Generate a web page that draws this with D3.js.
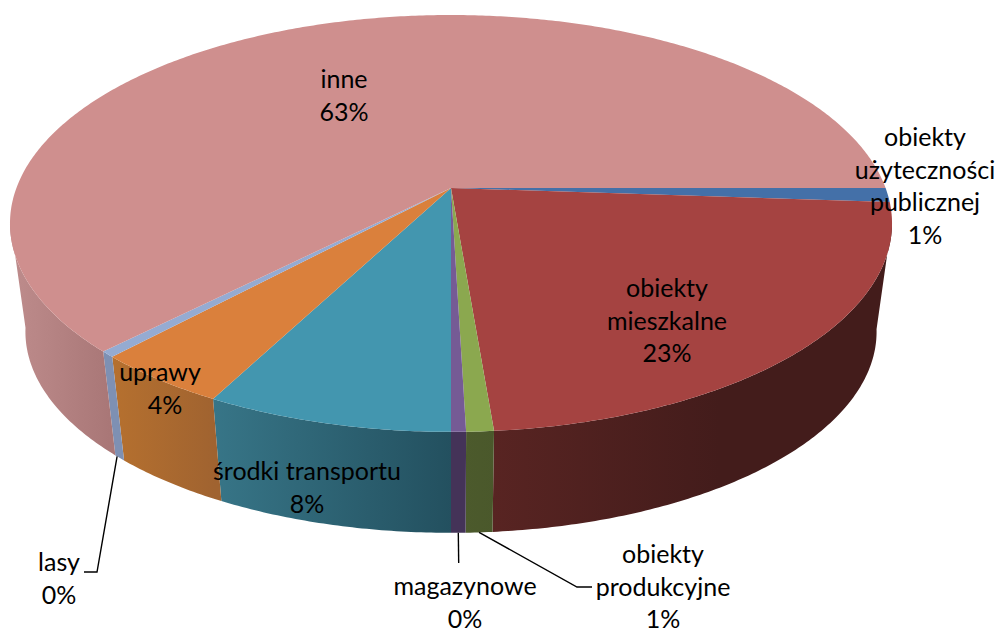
<!DOCTYPE html>
<html>
<head>
<meta charset="utf-8">
<title>Pie 3D</title>
<script src="https://cdn.jsdelivr.net/npm/d3@7"></script>
<style>
  html, body { margin: 0; padding: 0; background: #fff; }
  svg { display: block; }
  text { font-family: Lato, "Open Sans", sans-serif; font-size: 25px; fill: #000; text-anchor: middle; }
</style>
</head>
<body>
<div id="chart-area"></div>
<script>
// values (percent), clockwise from 3 o'clock
const categories = ["obiekty użyteczności publicznej", "obiekty mieszkalne", "obiekty produkcyjne",
    "magazynowe", "środki transportu", "uprawy", "lasy", "inne"];
const shares = [1.09, 22.6, 0.85, 0.46, 7.7, 4.26, 0.46, 62.58];

const topColors = ["#4470a8", "#a54341", "#8ba84f", "#755b95", "#4396af", "#da803c", "#95abd2", "#cf8f8e"];
const wallLeft = ["#2a4568", "#582422", "#4c5a2c", "#443358", "#377587", "#b5702f", "#7e90b3", "#bd8b8b"];
const wallRight = ["#2a4568", "#431c1b", "#4a582b", "#443358", "#23505f", "#a06330", "#7e90b3", "#a97777"];
const wallRange = [[0, 999], [493, 720], [460, 500], [440, 470], [215, 452], [115, 215], [100, 125], [15, 110]];

// label lines wrap as in the source chart
const labelLines = [["obiekty", "użyteczności", "publicznej"], ["obiekty", "mieszkalne"], ["obiekty", "produkcyjne"],
    ["magazynowe"], ["środki transportu"], ["uprawy"], ["lasy"], ["inne"]];
const labelAnchor = [[925, 146], [667, 297], [663, 563], [465, 595], [307, 480], [160, 381], [59, 571], [344, 88]];
const percentDx = [0, 0, 0, 0, 0, 5, 0, 0];
// leader lines: elbow points after the start on the slice's lower rim
const leaders = { 2: [[577, 587], [592, 587]], 3: [[458.7, 563]], 6: [[97, 572], [84, 572]] };
const leaderAngle = { 2: 0.5, 3: 0.5, 6: 0.8 };

const config = { width: 999, height: 628, cx: 451, cy: 188, a: 434.6, b: 202.4, k: 0.17, wallScale: 0.965, wallShift: 116.1 };

const svg = d3.select("#chart-area").append("svg")
    .attr("width", config.width)
    .attr("height", config.height);
const defs = svg.append("defs");

const pie = d3.pie().sort(null).startAngle(Math.PI / 2).endAngle(Math.PI * 2.5);
const arcs = pie(shares);

// disc point -> screen, perspective so the apex is not the ellipse centre
function topPoint(angle) {
    const u = Math.sin(angle), v = -Math.cos(angle);
    const w = 1 - config.k * v;
    return [config.cx + config.a * u / w, config.cy + config.b * v / w];
}
function bottomPoint(angle) {
    const p = topPoint(angle);
    return [config.cx + config.wallScale * (p[0] - config.cx), config.wallScale * p[1] + config.wallShift];
}
function samples(d) {
    const n = Math.max(2, Math.ceil((d.endAngle - d.startAngle) / 0.01));
    return d3.range(n + 1).map(i => d.startAngle + (d.endAngle - d.startAngle) * i / n);
}
const line = d3.line();

// walls first, top face over them
arcs.forEach((d, i) => {
    defs.append("linearGradient")
        .attr("id", "wall" + i)
        .attr("gradientUnits", "userSpaceOnUse")
        .attr("x1", wallRange[i][0]).attr("x2", wallRange[i][1])
        .attr("y1", 0).attr("y2", 0)
        .selectAll("stop")
        .data([wallLeft[i], wallRight[i]])
        .join("stop")
        .attr("offset", (c, j) => j)
        .attr("stop-color", c => c);
});

// only the part of the rim that faces the viewer gets a wall
const frontAngles = d => samples(d).filter(a => -Math.cos(a) >= 0.15);

svg.append("g").selectAll("path")
    .data(arcs.map((d, i) => ({ i, as: frontAngles(d) })).filter(w => w.as.length > 1))
    .join("path")
    .attr("d", w => line(w.as.map(topPoint).concat(w.as.slice().reverse().map(bottomPoint))) + "Z")
    .attr("fill", w => `url(#wall${w.i})`);

svg.append("g").selectAll("path")
    .data(arcs)
    .join("path")
    .attr("d", d => line([[config.cx, config.cy]].concat(samples(d).map(topPoint))) + "Z")
    .attr("fill", (d, i) => topColors[i]);

// leader lines
svg.append("g").selectAll("path")
    .data(Object.keys(leaders).map(Number))
    .join("path")
    .attr("d", i => {
        const d = arcs[i];
        const a = d.startAngle + (d.endAngle - d.startAngle) * leaderAngle[i];
        return line([bottomPoint(a)].concat(leaders[i]));
    })
    .attr("fill", "none")
    .attr("stroke", "#000")
    .attr("stroke-width", 1.4);

// labels: category lines, then rounded percent
const lineGap = 32.5;
const labels = svg.append("g").selectAll("text")
    .data(arcs)
    .join("text")
    .attr("transform", (d, i) => `translate(${labelAnchor[i][0]},${labelAnchor[i][1]})`);
labels.selectAll("tspan")
    .data((d, i) => labelLines[i].map(t => ({ t, dx: 0 })).concat([{ t: d3.format(".0f")(d.value) + "%", dx: percentDx[i] }]))
    .join("tspan")
    .attr("x", l => l.dx)
    .attr("y", (l, j) => j * lineGap)
    .text(l => l.t);
</script>
</body>
</html>
